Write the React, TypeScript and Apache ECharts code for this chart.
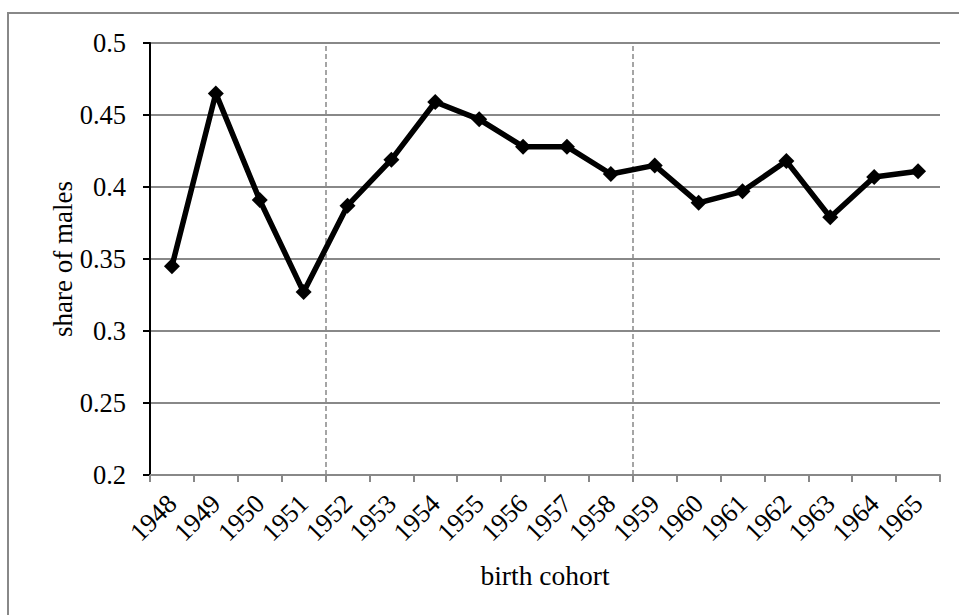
import React, { useEffect, useRef } from "react";
import * as echarts from "echarts";

const categories = ["1948","1949","1950","1951","1952","1953","1954","1955","1956","1957","1958","1959","1960","1961","1962","1963","1964","1965"];
const shareOfMales = [0.345,0.465,0.391,0.327,0.387,0.419,0.459,0.447,0.428,0.428,0.409,0.415,0.389,0.397,0.418,0.379,0.407,0.411];
const dividerPositions = [4, 11];

export default function App() {
  const ref = useRef<HTMLDivElement>(null);
  useEffect(() => {
    if (!ref.current) return;
    const chart = echarts.init(ref.current, null, { renderer: "svg" });
    const font = "'Liberation Serif', 'Times New Roman', serif";
    chart.setOption({
      animation: false,
      backgroundColor: "#ffffff",
      textStyle: { fontFamily: font },
      graphic: [
        {
          type: "rect",
          shape: { x: 8, y: 13, width: 1000, height: 700 },
          style: { fill: "none", stroke: "#888888", lineWidth: 2 },
          silent: true,
        },
      ],
      grid: { left: 150, right: 19, top: 43, bottom: 140 },
      xAxis: [
        {
          type: "category",
          data: categories,
          boundaryGap: true,
          name: "birth cohort",
          nameLocation: "middle",
          nameGap: 86,
          nameMoveOverlap: false,
          nameTextStyle: { fontFamily: font, fontSize: 27.5, color: "#000" },
          axisLine: { lineStyle: { color: "#888888", width: 2 } },
          axisTick: { show: true, length: 7, lineStyle: { color: "#888888", width: 2 }, alignWithLabel: false },
          axisLabel: { rotate: 45, fontFamily: font, fontSize: 26.5, color: "#000", margin: 24, interval: 0 },
          splitLine: { show: false },
        },
        {
          type: "value",
          min: 0,
          max: 18,
          show: false,
          position: "bottom",
        },
      ],
      yAxis: {
        type: "value",
        min: 0.2,
        max: 0.5,
        interval: 0.05,
        name: "share of males",
        nameLocation: "middle",
        nameRotate: 90,
        nameGap: 74,
        nameMoveOverlap: false,
        nameTextStyle: { fontFamily: font, fontSize: 27, color: "#000" },
        axisLine: { show: true, lineStyle: { color: "#000000", width: 2 } },
        axisTick: { show: true, length: 7, lineStyle: { color: "#000000", width: 2 } },
        axisLabel: { fontFamily: font, fontSize: 26.5, color: "#000", margin: 24, formatter: (v: number) => String(parseFloat(v.toFixed(2))) },
        splitLine: { show: true, lineStyle: { color: "#888888", width: 2 } },
      },
      series: [
        {
          type: "line",
          data: shareOfMales,
          xAxisIndex: 0,
          symbol: "diamond",
          symbolSize: 16,
          lineStyle: { color: "#000", width: 5.5 },
          itemStyle: { color: "#000" },
          z: 5,
        },
        {
          type: "line",
          xAxisIndex: 1,
          data: [],
          markLine: {
            silent: true,
            symbol: ["none", "none"],
            label: { show: false },
            lineStyle: { color: "#888888", type: [5, 3], width: 1.5 },
            data: dividerPositions.map((p) => ({ xAxis: p })),
          },
        },
      ],
    });
    return () => chart.dispose();
  }, []);
  return <div ref={ref} style={{ position: "fixed", left: 0, top: 0, width: 959, height: 615 }} />;
}
